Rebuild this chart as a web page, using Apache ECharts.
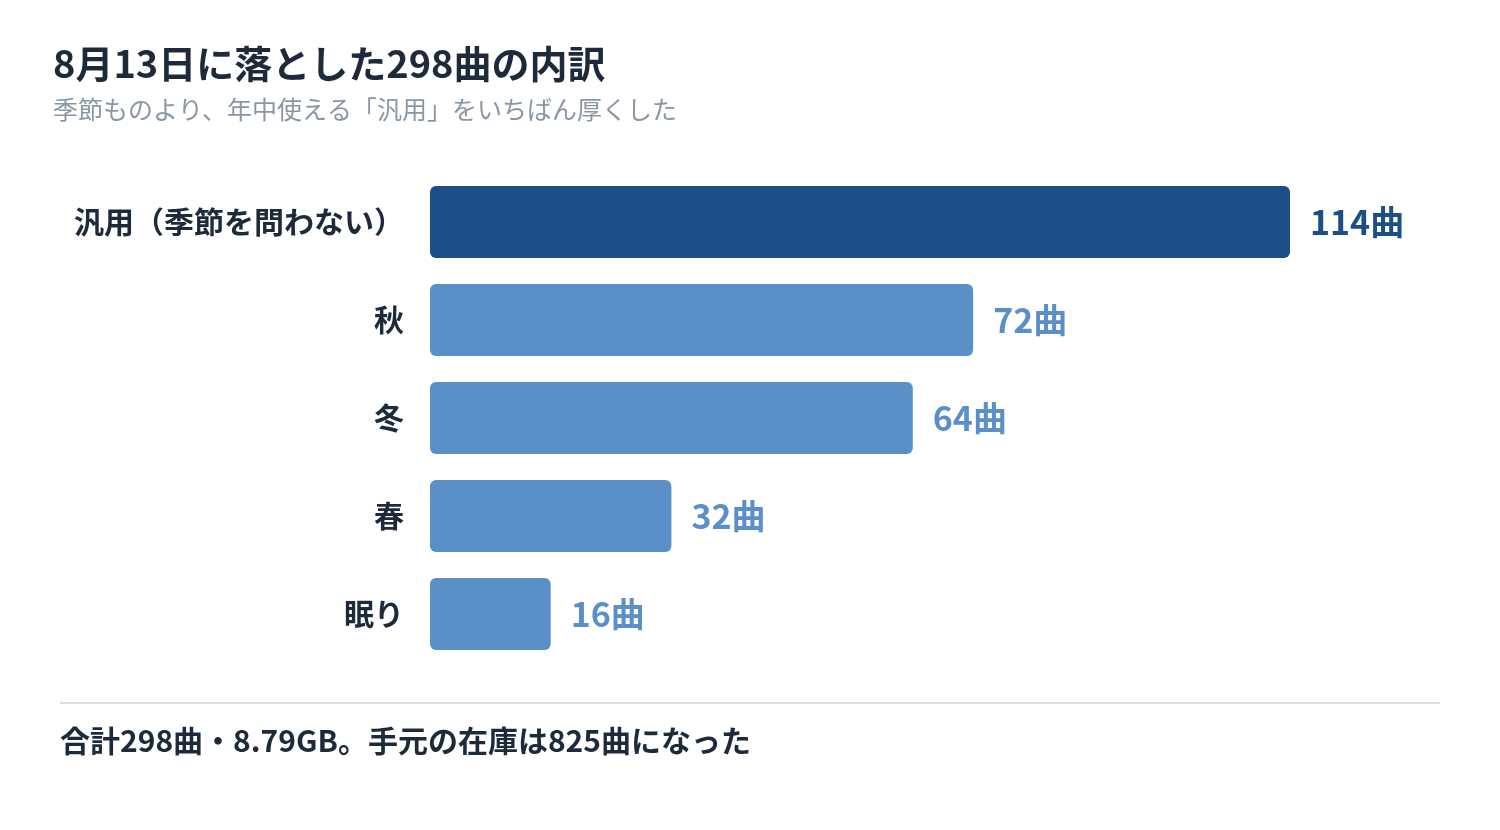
<!DOCTYPE html>
<html><head><meta charset="utf-8">
<script src="https://cdn.jsdelivr.net/npm/echarts@6/dist/echarts.min.js"></script>
<style>html,body{margin:0;background:#fff}#c{width:1500px;height:830px}</style>
</head><body><div id="c"></div>
<script>
const categories = ['汎用（季節を問わない）','秋','冬','春','眠り'];
const values = [114,72,64,32,16];
const barColors = ['#1c4f88','#5b8fc7','#5b8fc7','#5b8fc7','#5b8fc7'];
const F = '"Noto Sans CJK JP", sans-serif';
const chart = echarts.init(document.getElementById('c'));
chart.setOption({
  backgroundColor:'#fff',
  title:{text:'8月13日に落とした298曲の内訳',subtext:'季節ものより、年中使える「汎用」をいちばん厚くした',left:48,top:40,itemGap:14,
    textStyle:{fontFamily:F,fontSize:38,fontWeight:'bold',color:'#1e2a3a'},
    subtextStyle:{fontFamily:F,fontSize:25,color:'#8a96a3'}},
  grid:{left:430,right:210,top:173,height:490},
  xAxis:{type:'value',min:0,max:114,show:false},
  yAxis:{type:'category',inverse:true,data:categories,axisLine:{show:false},axisTick:{show:false},
    axisLabel:{margin:26,fontFamily:F,fontSize:30,fontWeight:'bold',color:'#1e2a3a'}},
  series:[{type:'bar',barWidth:72,
    data:values.map((v,i)=>({value:v,itemStyle:{color:barColors[i],borderRadius:6},
      label:{color:barColors[i]}})),
    label:{show:true,position:'right',distance:20,formatter:'{c}曲',fontFamily:F,fontSize:34,fontWeight:'bold'}}],
  graphic:[
    {type:'line',shape:{x1:60,y1:703,x2:1440,y2:703},style:{stroke:'#d8dde3',lineWidth:2}},
    {type:'text',left:60,top:726,style:{text:'合計298曲・8.79GB。手元の在庫は825曲になった',font:'bold 30px "Noto Sans CJK JP", sans-serif',fill:'#1e2a3a'}}
  ]
});
</script></body></html>
